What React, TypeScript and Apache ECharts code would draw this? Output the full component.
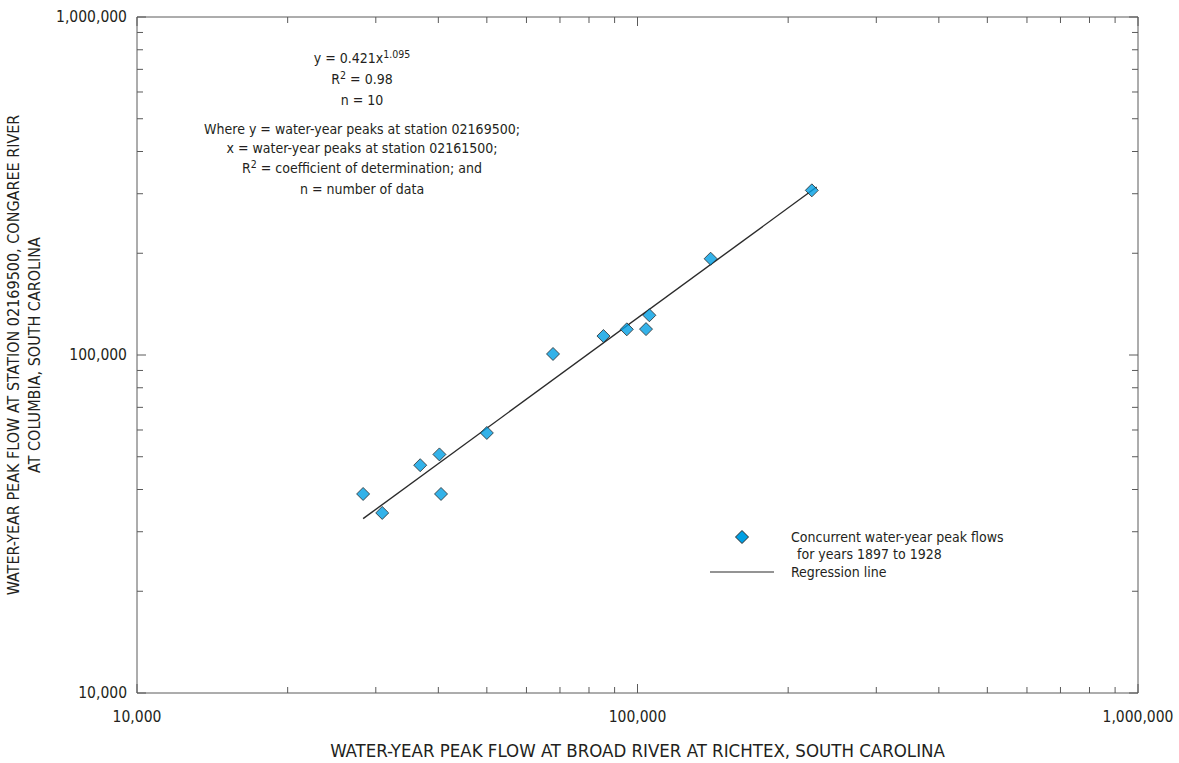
import React, { useEffect, useRef } from "react";
import * as echarts from "echarts";

// Concurrent water-year peak flows (ft3/s)
const broadRiverPeaks = [28300, 30900, 36800, 40200, 40500, 50000, 67800, 85500, 95200, 104000, 105600, 140000, 223000];
const congareePeaks = [38800, 34100, 47200, 50800, 38800, 58800, 100700, 113800, 119100, 119300, 131100, 192700, 307000];

// Regression line endpoints
const regressionX = [28300, 228000];
const regressionY = [32800, 314000];

// Axis tick values
const axisMin = 10000;
const axisMax = 1000000;
const majorTicks = [10000, 100000, 1000000];
const minorTicks = [20000, 30000, 40000, 50000, 60000, 70000, 80000, 90000, 200000, 300000, 400000, 500000, 600000, 700000, 800000, 900000];

const FONT = "'Liberation Sans Narrow', 'Arial Narrow', 'DejaVu Sans Condensed', sans-serif";
const TEXT = "#231f20";
const AXIS = "#5a5a5a";
const MARKER = "#009fe3";

export default function App() {
  const ref = useRef<HTMLDivElement>(null);
  useEffect(() => {
    if (!ref.current) return;
    const chart = echarts.init(ref.current, null, { renderer: "svg" });

    const tickData = (forX: boolean) =>
      [...majorTicks.map((v) => [v, 1]), ...minorTicks.map((v) => [v, 0])].map(([v, m]) =>
        forX ? [v, axisMin, m] : [axisMin, v, m]
      );

    const tickSeries = (forX: boolean) => ({
      type: "custom",
      silent: true,
      clip: false,
      z: 5,
      encode: { x: 0, y: 1 },
      data: tickData(forX),
      renderItem: (params: any, api: any) => {
        const major = api.value(2) === 1;
        const len = major ? 9 : 6;
        const st = { stroke: AXIS, lineWidth: 1 };
        if (forX) {
          const v = api.value(0);
          const b = api.coord([v, axisMin]);
          const t = api.coord([v, axisMax]);
          return {
            type: "group",
            children: [
              { type: "line", shape: { x1: b[0], y1: b[1], x2: b[0], y2: b[1] - len }, style: st },
              { type: "line", shape: { x1: t[0], y1: t[1], x2: t[0], y2: t[1] + len }, style: st },
            ],
          };
        }
        const v = api.value(1);
        const l = api.coord([axisMin, v]);
        const r = api.coord([axisMax, v]);
        return {
          type: "group",
          children: [
            { type: "line", shape: { x1: l[0], y1: l[1], x2: l[0] + len, y2: l[1] }, style: st },
            { type: "line", shape: { x1: r[0], y1: r[1], x2: r[0] - len, y2: r[1] }, style: st },
          ],
        };
      },
    });

    const fmt = (v: number) => v.toLocaleString("en-US");
    const rich = {
      sup: { fontFamily: FONT, fontSize: 10.5, fill: TEXT, color: TEXT, verticalAlign: "top", lineHeight: 19 },
    };
    const note = (text: string, y: number) => ({
      type: "text",
      x: 362,
      y,
      style: {
        text,
        rich,
        fontFamily: FONT,
        fontSize: 14,
        fill: TEXT,
        align: "center",
        verticalAlign: "middle",
      },
    });

    const option: any = {
      animation: false,
      backgroundColor: "#fff",
      grid: {
        left: 137,
        right: 41,
        top: 17,
        bottom: 70,
        show: true,
        borderColor: AXIS,
        borderWidth: 1,
        outerBoundsMode: "none",
      },
      xAxis: {
        type: "log",
        logBase: 10,
        min: axisMin,
        max: axisMax,
        name: "WATER-YEAR PEAK FLOW AT BROAD RIVER AT RICHTEX, SOUTH CAROLINA",
        nameLocation: "middle",
        nameGap: 48,
        nameTextStyle: { fontFamily: FONT, fontSize: 18.5, color: TEXT },
        axisLine: { show: false },
        axisTick: { show: false },
        splitLine: { show: false },
        axisLabel: { formatter: fmt, fontFamily: FONT, fontSize: 15.5, color: TEXT, margin: 16 },
      },
      yAxis: {
        type: "log",
        logBase: 10,
        min: axisMin,
        max: axisMax,
        name: "WATER-YEAR PEAK FLOW AT STATION 02169500, CONGAREE RIVER\nAT COLUMBIA, SOUTH CAROLINA",
        nameLocation: "middle",
        nameGap: 79,
        nameRotate: 90,
        nameTextStyle: { fontFamily: FONT, fontSize: 16, color: TEXT, lineHeight: 21 },
        axisLine: { show: false },
        axisTick: { show: false },
        splitLine: { show: false },
        axisLabel: { formatter: fmt, fontFamily: FONT, fontSize: 15.5, color: TEXT, margin: 10 },
      },
      series: [
        tickSeries(true),
        tickSeries(false),
        {
          name: "Regression line",
          type: "line",
          data: regressionX.map((x, i) => [x, regressionY[i]]),
          showSymbol: false,
          symbol: "none",
          lineStyle: { color: "#2b2b2b", width: 1.4 },
          z: 3,
        },
        {
          name: "Concurrent water-year peak flows for years 1897 to 1928",
          type: "scatter",
          data: broadRiverPeaks.map((x, i) => [x, congareePeaks[i]]),
          symbol: "diamond",
          symbolSize: 13,
          itemStyle: { color: MARKER, borderColor: "#2b2b2b", borderWidth: 1 },
          z: 4,
        },
      ],
      graphic: [
        note("y = 0.421x{sup|1.095}", 58),
        note("R{sup|2} = 0.98", 79),
        note("n = 10", 100),
        note("Where y = water-year peaks at station 02169500;", 129),
        note("x = water-year peaks at station 02161500;", 148),
        note("R{sup|2} = coefficient of determination; and", 168),
        note("n = number of data", 189),
        {
          type: "polygon",
          shape: { points: [[742, 530.5], [748.5, 537], [742, 543.5], [735.5, 537]] },
          style: { fill: MARKER, stroke: "#2b2b2b", lineWidth: 1 },
        },
        {
          type: "text",
          x: 791,
          y: 537,
          style: { text: "Concurrent water-year peak flows", fontFamily: FONT, fontSize: 14, fill: TEXT, verticalAlign: "middle" },
        },
        {
          type: "text",
          x: 797,
          y: 554,
          style: { text: "for years 1897 to 1928", fontFamily: FONT, fontSize: 14, fill: TEXT, verticalAlign: "middle" },
        },
        {
          type: "line",
          shape: { x1: 710, y1: 572, x2: 774, y2: 572 },
          style: { stroke: "#2b2b2b", lineWidth: 1.2 },
        },
        {
          type: "text",
          x: 791,
          y: 572,
          style: { text: "Regression line", fontFamily: FONT, fontSize: 14, fill: TEXT, verticalAlign: "middle" },
        },
      ],
    };
    chart.setOption(option);
    return () => chart.dispose();
  }, []);

  return (
    <div
      ref={ref}
      style={{ position: "fixed", left: 0, top: 0, width: 1179, height: 763, background: "#fff" }}
    />
  );
}
